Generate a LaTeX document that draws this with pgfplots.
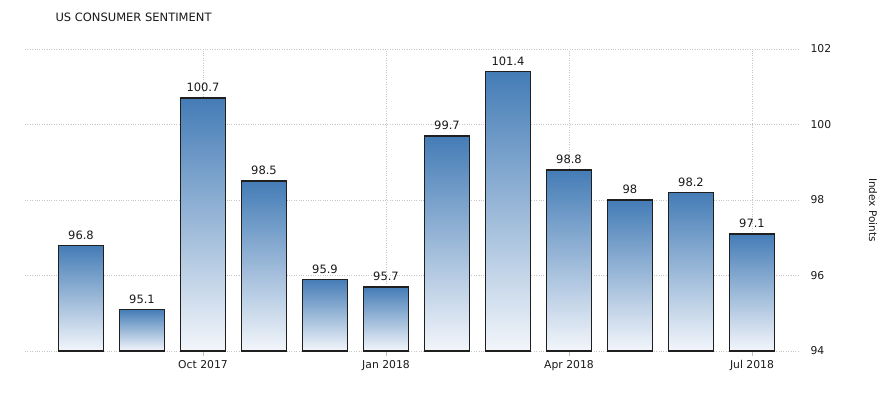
\documentclass[border=0pt]{standalone}
\usepackage{pgfplots}
\pgfplotsset{compat=1.18}
\usepackage{fontspec}
\setmainfont{DejaVu Sans}
\definecolor{barblue}{RGB}{68,124,182}
\definecolor{barwhite}{RGB}{243,246,251}
\definecolor{txt}{RGB}{25,25,25}
\pgfplotsset{
  mybar/.style={ybar, bar width=0.74, bar shift=0pt, draw=black!88, line width=1.5pt,
    top color=barblue, bottom color=barwhite,
    point meta=explicit symbolic,
    nodes near coords, every node near coord/.append style={font=\fontsize{11.5}{13}\selectfont, text=txt, yshift=2pt}}
}
\begin{document}
\begin{tikzpicture}
\begin{axis}[
  scale only axis, width=775pt, height=302pt,
  xmin=-0.918, xmax=11.787, ymin=94, ymax=102,
  y coord trafo/.code={\pgfmathparse{#1-94}},
  y coord inv trafo/.code={\pgfmathparse{#1+94}},
  axis x line=bottom, axis y line=right,
  axis line style={draw=none},
  xtick={2,5,8,11}, xticklabels={Oct 2017,Jan 2018,Apr 2018,Jul 2018},
  ytick={94,96,98,100,102},
  yticklabel pos=right,
  /pgf/number format/assume math mode=true,
  grid=major, grid style={dotted, black!22, line width=0.7pt},
  tick align=outside,
  x tick style={black!25, line width=0.8pt}, major tick length=5pt,
  y tick style={draw=none},
  ticklabel style={font=\fontsize{10.8}{12}\selectfont, text=txt},
  xticklabel style={yshift=-1pt},
  yticklabel style={xshift=2pt},
  clip=false,
]
\addplot[mybar] coordinates {(0,96.8) [96.8]};
\addplot[mybar] coordinates {(1,95.1) [95.1]};
\addplot[mybar] coordinates {(2,100.7) [100.7]};
\addplot[mybar] coordinates {(3,98.5) [98.5]};
\addplot[mybar] coordinates {(4,95.9) [95.9]};
\addplot[mybar] coordinates {(5,95.7) [95.7]};
\addplot[mybar] coordinates {(6,99.7) [99.7]};
\addplot[mybar] coordinates {(7,101.4) [101.4]};
\addplot[mybar] coordinates {(8,98.8) [98.8]};
\addplot[mybar] coordinates {(9,98) [98]};
\addplot[mybar] coordinates {(10,98.2) [98.2]};
\addplot[mybar] coordinates {(11,97.1) [97.1]};
\end{axis}
\node[anchor=west, font=\fontsize{11.5}{13}\selectfont, text=txt] at ([xshift=27pt,yshift=32pt]current axis.north west) {US CONSUMER SENTIMENT};
\node[rotate=-90, font=\fontsize{10.5}{12}\selectfont, text=txt] at ([xshift=73pt,yshift=-10pt]current axis.east) {Index Points};
\path[use as bounding box] ([xshift=-25pt,yshift=-42pt]current axis.south west) rectangle ([xshift=89pt,yshift=49pt]current axis.north east);
\end{tikzpicture}
\end{document}
